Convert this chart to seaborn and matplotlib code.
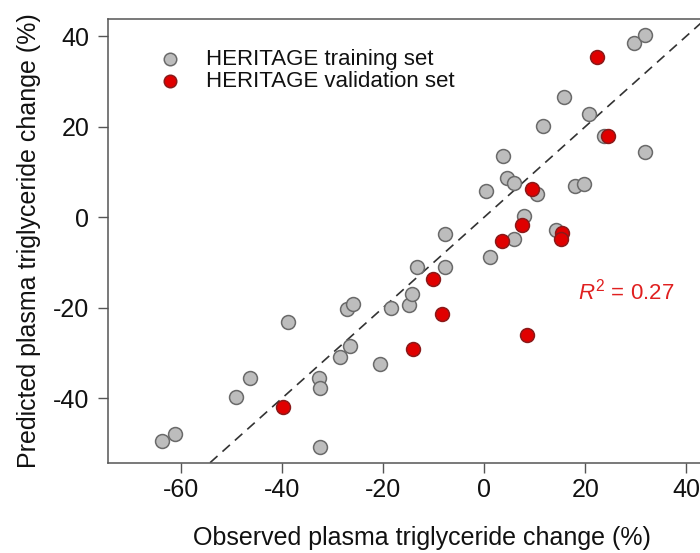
import matplotlib
matplotlib.use("Agg")
import matplotlib.pyplot as plt
import seaborn as sns
import pandas as pd

# observed vs predicted plasma TG change (%)
train_obs = [-63.9, -61.3, -49.2, -46.4, -38.9, -32.7, -32.5, -32.5, -28.5, -26.6,
             -27.2, -25.9, -20.6, -18.4, -14.9, -14.3, -13.3, -7.7, -7.7, 0.3,
             1.2, 3.8, 4.4, 5.9, 10.5, 7.9, 5.9, 14.1, 18.0, 19.7,
             11.6, 15.7, 20.7, 23.8, 31.8, 29.7, 31.8]
train_pred = [-49.5, -48.0, -39.8, -35.6, -23.1, -35.6, -37.7, -50.8, -31.0, -28.4,
              -20.3, -19.2, -32.4, -20.0, -19.4, -16.9, -11.0, -11.0, -3.8, 5.7,
              -8.8, 13.6, 8.7, 7.6, 5.2, 0.2, -4.9, -2.9, 6.9, 7.3,
              20.2, 26.5, 22.9, 17.9, 14.4, 38.4, 40.2]
valid_obs = [22.4, 24.5, 9.5, 7.5, 3.5, 15.3, 15.1, -10.2, -8.3, -14.1, 8.5, -39.8]
valid_pred = [35.4, 18.0, 6.3, -1.8, -5.2, -3.6, -4.8, -13.6, -21.4, -29.2, -26.0, -42.0]

x_ticks = [-60, -40, -20, 0, 20, 40]
y_ticks = [-40, -20, 0, 20, 40]
r2_label = r"$R^2$ = 0.27"

train = pd.DataFrame({"obs": train_obs, "pred": train_pred})
valid = pd.DataFrame({"obs": valid_obs, "pred": valid_pred})

sns.set_style("ticks")
plt.rcParams["font.family"] = ["Liberation Sans", "DejaVu Sans"]
plt.rcParams["axes.unicode_minus"] = False
plt.rcParams["mathtext.fontset"] = "custom"
plt.rcParams["mathtext.rm"] = "Liberation Sans"
plt.rcParams["mathtext.it"] = "Liberation Sans:italic"
plt.rcParams["text.color"] = "#111111"
plt.rcParams["axes.labelcolor"] = "#111111"
plt.rcParams["xtick.labelcolor"] = "#111111"
plt.rcParams["ytick.labelcolor"] = "#111111"

fig = plt.figure(figsize=(7, 5.53), dpi=100)
ax = fig.add_axes([0.1536, 0.1633, 0.899, 0.8024])

# identity line
ax.axline((0, 0), slope=1, color="#333333", lw=1.2, ls=(0, (6, 4)), zorder=1)

sns.scatterplot(data=train, x="obs", y="pred", ax=ax, s=100, color="#bdbdbd",
                edgecolor="#6a6a6a", linewidth=1.1, label="HERITAGE training set", zorder=2)
sns.scatterplot(data=valid, x="obs", y="pred", ax=ax, s=100, color="#e00000",
                edgecolor="#8a1a1a", linewidth=1.1, label="HERITAGE validation set", zorder=3)

ax.set_xlim(-74.6, 50)
ax.set_ylim(-54.3, 43.8)
ax.set_xticks(x_ticks)
ax.set_yticks(y_ticks)
ax.tick_params(axis="both", labelsize=18, length=7, width=1, color="#555555")
ax.tick_params(axis="x", pad=4)
ax.tick_params(axis="y", pad=6)
for s in ax.spines.values():
    s.set_color("#555555")
    s.set_linewidth(1.1)

ax.set_xlabel("Observed plasma triglyceride change (%)", fontsize=18, labelpad=17)
ax.set_ylabel("Predicted plasma triglyceride change (%)", fontsize=18, labelpad=9)

ax.text(18.6, -16.4, r2_label, color="#e02020", fontsize=16, ha="left", va="center")

ax.legend(loc="upper left", bbox_to_anchor=(0.05, 0.952), frameon=False, fontsize=16,
          markerscale=0.9, handletextpad=0.6, labelspacing=0.05, borderaxespad=0)

fig.savefig("out.png", dpi=100)
